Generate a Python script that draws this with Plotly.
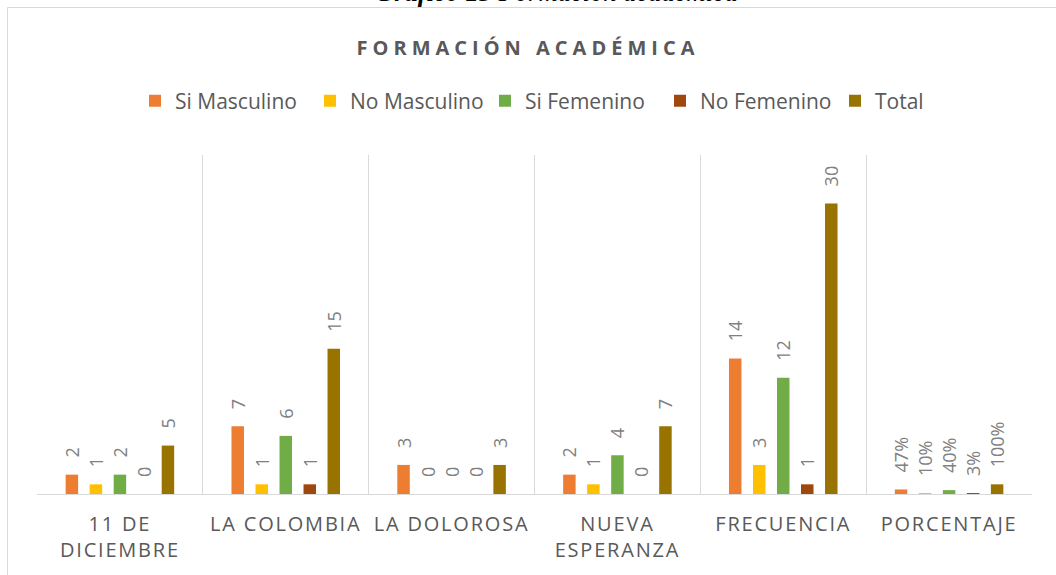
import plotly.graph_objects as go

categories = ["11 DE DICIEMBRE", "LA COLOMBIA", "LA DOLOROSA", "NUEVA ESPERANZA", "FRECUENCIA", "PORCENTAJE"]
tick_labels = ["11 DE<br>DICIEMBRE", "LA COLOMBIA", "LA DOLOROSA", "NUEVA<br>ESPERANZA", "FRECUENCIA", "PORCENTAJE"]

series_names = ["Si Masculino", "No Masculino", "Si Femenino", "No Femenino", "Total"]
si_masculino = [2, 7, 3, 2, 14, 0.47]
no_masculino = [1, 1, 0, 1, 3, 0.10]
si_femenino = [2, 6, 0, 4, 12, 0.40]
no_femenino = [0, 1, 0, 0, 1, 0.03]
total = [5, 15, 3, 7, 30, 1.00]
series_values = [si_masculino, no_masculino, si_femenino, no_femenino, total]
series_colors = ["#ED7D31", "#FFC000", "#70AD47", "#9E480E", "#997300"]

title_text = "FORMACIÓN ACADÉMICA"
caption_text = "<b><i>Gráfico 15</i></b><i> Formación académica</i>"

FONT = "Open Sans, Noto Sans, sans-serif"
GRAY = "#595959"


def fmt(v, cat):
    if cat == "PORCENTAJE":
        return f"{round(v * 100)}%"
    return str(int(round(v)))


fig = go.Figure()
for name, vals, col in zip(series_names, series_values, series_colors):
    fig.add_trace(go.Bar(
        name=name,
        x=categories,
        y=vals,
        marker=dict(color=col, line=dict(width=0)),
        text=[fmt(v, c) for v, c in zip(vals, categories)],
        texttemplate="\u00a0\u00a0\u00a0%{text}",
        textposition="outside",
        textangle=-90,
        constraintext="none",
        cliponaxis=False,
        textfont=dict(family=FONT, size=18, color="#808080"),
        hoverinfo="skip",
    ))

fig.update_layout(
    width=1056,
    height=575,
    barmode="group",
    bargap=0.276,
    bargroupgap=0.48,
    paper_bgcolor="white",
    plot_bgcolor="white",
    margin=dict(l=37, r=24, t=155, b=81, autoexpand=False),
    title=dict(
        text=title_text,
        x=0.5, xref="container", xanchor="center",
        y=1 - 48 / 575, yref="container", yanchor="middle",
        font=dict(family=FONT, size=20, color=GRAY, weight="bold"),
    ),
    legend=dict(
        orientation="h",
        x=0.5 + 38 / 995, xanchor="center",
        y=(494 - 101) / 339, yanchor="middle",
        font=dict(family=FONT, size=21, color=GRAY),
        traceorder="normal",
        entrywidth=130,
        bgcolor="rgba(0,0,0,0)",
    ),
    xaxis=dict(
        type="category",
        tickmode="array",
        tickvals=categories,
        ticktext=tick_labels,
        tickson="boundaries",
        ticks="",
        showgrid=True,
        gridcolor="#D9D9D9",
        gridwidth=1,
        showline=True,
        linecolor="#D9D9D9",
        linewidth=1,
        tickfont=dict(family=FONT, size=20, color=GRAY),
        ticklabelstandoff=12,
    ),
    yaxis=dict(
        range=[0, 35],
        visible=False,
        showgrid=False,
        zeroline=False,
    ),
    shapes=[dict(
        type="rect", xref="paper", yref="paper",
        x0=(7.5 - 37) / 995, x1=1.2,
        y0=-0.5, y1=(494 - 7.5) / 339,
        line=dict(color="#D9D9D9", width=1),
        fillcolor="rgba(0,0,0,0)",
        layer="below",
    )],
    annotations=[dict(
        text=caption_text,
        xref="paper", yref="paper",
        x=(556 - 37) / 995, y=1,
        xanchor="center", yanchor="middle",
        yshift=163,
        showarrow=False,
        font=dict(family="Liberation Serif, Times New Roman, serif", size=26.5, color="black"),
    )],
)

post = """
document.body.style.margin = '0';
var gd = document.getElementById('{plot_id}');
function sp(){
  gd.querySelectorAll('.xtick text').forEach(function(t){ t.style.letterSpacing = '1.8px'; });
  gd.querySelectorAll('.gtitle').forEach(function(t){ t.style.letterSpacing = '5px'; });
}
sp();
gd.on('plotly_afterplot', sp);
"""

fig.write_html("out.html", post_script=post, config={"displayModeBar": False})
